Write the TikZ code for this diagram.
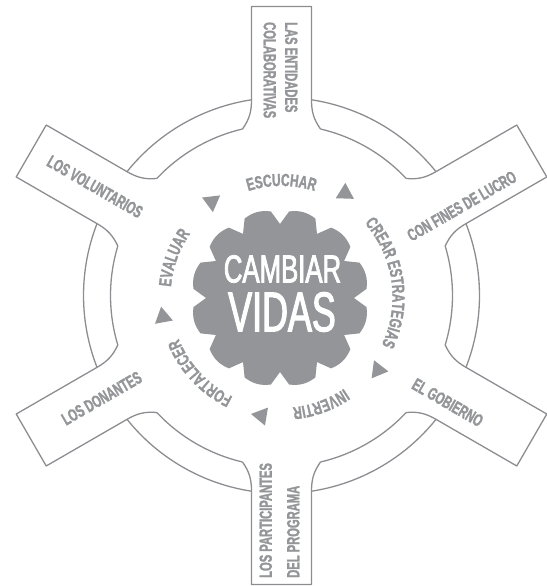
\documentclass[tikz,border=0pt]{standalone}
\usepackage{fontspec}
\setmainfont{Liberation Sans}
\newfontfamily\labfont{Liberation Sans}[FakeStretch=0.64, UprightFont=* Bold, FakeBold=1.5]
\newfontfamily\ringfont{Liberation Sans}[FakeStretch=0.68, UprightFont=* Bold, FakeBold=1.5]
\newfontfamily\cenA{Liberation Sans}[FakeStretch=0.66, FakeBold=2]
\newfontfamily\cenB{Liberation Sans}[FakeStretch=0.64, FakeBold=2]
\usetikzlibrary{decorations.text,shapes.geometric}
\definecolor{ln}{RGB}{140,141,145}
\definecolor{gf}{RGB}{147,149,152}
\newcommand{\labfmt}{\ringfont\fontsize{17.5}{17.5}\selectfont\color{gf}}
\begin{document}
\begin{tikzpicture}[x=1pt,y=1pt,
  armline/.style={draw=ln, line width=1.3pt, line join=round},
  lab/.style={text=gf, font=\labfont\fontsize{17.5}{21.5}\selectfont, inner sep=0pt, align=left},
  tri/.style={fill=gf, draw=none, regular polygon, regular polygon sides=3, minimum size=21pt, inner sep=0pt},
  ringtext/.style={decorate, decoration={text along path, text align=center, text={|\labfmt|#1}}}]
\useasboundingbox (0,0) rectangle (546,586);
\coordinate (C) at (281.5,290.5);
\coordinate (T) at (281.5,289);
\coordinate (G) at (280,288);
% arms and ring
\foreach \t in {90,30,-30,-90,-150,150}{
  \begin{scope}[shift={(C)}, rotate=\t]
    \draw[armline] (166.5,39) to[out=-35,in=180] (195.7,30) -- (289,30) -- (289,-30) -- (195.7,-30) to[out=180,in=35] (166.5,-39);
    \draw[armline] (8.7:198pt) arc[start angle=8.7, end angle=51.3, radius=198pt];
    \draw[armline] (13.2:171pt) arc[start angle=13.2, end angle=46.8, radius=171pt];
  \end{scope}
}
% gear
\fill[gf, shift={(G)}] (0:74pt) \foreach \a in {0,30,...,330}{ -- (\a:74pt) -- (\a+6:87pt) to[bend right=22] (\a+24:87pt) } -- cycle;
\node[text=white, font=\cenA\fontsize{39}{39}\selectfont, inner sep=0pt] (cam) at (282.5,317) {CAMBIAR};
\node[text=white, font=\cenB\fontsize{56}{56}\selectfont, inner sep=0pt] (vid) at (282,274) {VIDAS};
% ring texts
\path[ringtext=ESCUCHAR] (T) ++(130:111pt) arc[start angle=130, end angle=50, radius=111pt];
\path[ringtext=CREAR{ }ESTRATEGIAS] (T) ++(53:111pt) arc[start angle=53, end angle=-37, radius=111pt];
\path[ringtext=INVERTIR] (T) ++(-30:111pt) arc[start angle=-30, end angle=-110, radius=111pt];
\path[ringtext=FORTALECER] (T) ++(-97:111pt) arc[start angle=-97, end angle=-177, radius=111pt];
\path[ringtext=EVALUAR] (T) ++(200:111pt) arc[start angle=200, end angle=120, radius=111pt];
% triangles
\node[tri, rotate=-53.3] (a1) at (211.7,384.3) {};
\node[tri, rotate=-121.9] (a2) at (345,392.7) {};
\node[tri, rotate=-217.7] (a3) at (378,216) {};
\node[tri, rotate=-279.5] (a4) at (261.3,170.3) {};
\node[tri, rotate=10.3] (a5) at (163,269) {};
% arm labels
\node[lab, rotate=-90, anchor=west] (l1) at (280.5,564) {LAS ENTIDADES\\COLABORATIVAS};
\node[lab, rotate=-30] (l2) at (95,399.3) {LOS VOLUNTARIOS};
\node[lab, rotate=30] (l3) at (461.8,380) {CON FINES DE LUCRO};
\node[lab, rotate=-30] (l4) at (447.7,183.5) {EL GOBIERNO};
\node[lab, rotate=30] (l5) at (101.7,187.7) {LOS DONANTES};
\node[lab, rotate=90, anchor=west, font=\labfont\fontsize{17.5}{27.5}\selectfont] (l6) at (279.5,8) {LOS PARTICIPANTES\\DEL PROGRAMA};
\end{tikzpicture}
\end{document}
